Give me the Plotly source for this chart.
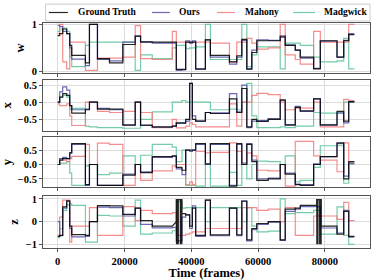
import plotly.graph_objects as go

# Segment start times (thousand frames), shared by all panels
SEG_K = [0, 0.6, 1.5, 2.7, 3.6, 4.2, 8.3, 9.5, 11.9, 15.5, 19.5, 23.2, 24.8, 28.3, 34.3,
         35.5, 37.2, 38.3, 39.5, 40.3, 41.3, 44.2, 45.7, 51.4, 53.6, 55.1, 56.6, 58.1,
         59.6, 63.0, 66.6, 68.1, 71.1, 72.6, 76.6, 78.6, 83.6, 85.6, 87.1]
END_K = 88.8

SERIES = ["Ground Truth", "Ours", "Mahony", "Madgwick"]
COLORS = ["#000000", "#5050a8", "#f47a78", "#5cc49a"]

W_GT = [0.76, 0.8, 0.9, 0.8, 0.55, 0.34, 0.18, 1.0, 0.27, 0.18, 0.57, 0.75, 0.62, 0.62, 0.62,
        0.04, 0.04, 0.62, 0.62, 0.62, 0.05, 0.67, 0.34, 0.2, 0.33, 0.68, 0.05, 0.4, 0.65, 0.65,
        0.75, 0.55, 0.45, 0.3, 0.05, 0.65, 0.3, 0.65, 0.78]
W_OURS = [0.98, 0.95, 0.85, 0.8, 0.5, 0.26, 0.12, 1.0, 0.25, 0.22, 0.62, 0.75, 0.63, 0.6, 0.6,
          0.02, 0.03, 0.65, 0.6, 0.65, 0.04, 0.67, 0.3, 0.15, 0.3, 0.66, 0.04, 0.45, 0.67, 0.66,
          0.72, 0.56, 0.45, 0.28, 0.06, 0.64, 0.3, 0.66, 0.8]
W_MAH = [0.8, 1.0, 0.2, 0.05, 0.62, 0.62, 0.02, 0.02, 0.28, 0.28, 0.3, 0.97, 0.27, 0.25, 0.85,
         0.62, 0.62, 0.62, 0.6, 0.62, 0.62, 0.62, 0.6, 0.2, 0.62, 0.62, 0.7, 0.6, 0.47, 0.5,
         1.0, 0.35, 0.25, 0.15, 0.85, 0.62, 0.62, 0.62, 1.0]
W_MAD = [0.85, 0.9, 0.92, 0.85, 0.3, 0.1, 0.55, 0.62, 0.62, 0.62, 0.62, 0.02, 0.35, 0.27, 0.5,
         0.55, 0.55, 0.48, 0.5, 0.5, 0.52, 1.0, 0.25, 0.25, 0.25, 1.0, 0.1, 0.35, 0.52, 0.52,
         0.05, 0.6, 0.6, 0.55, 0.3, 0.2, 0.22, 0.7, 0.05]

X_GT = [0.0, 0.15, 0.25, 0.2, -0.1, -0.32, -0.22, 0.0, -0.2, -0.2, -0.66, 0.0, -0.67, -0.72, -0.7,
        -0.6, -0.6, -0.5, 0.55, -0.5, -0.55, -0.3, -0.33, 0.1, -0.3, 0.4, -0.72, -0.5, -0.56, -0.5,
        0.07, -0.66, -0.15, -0.25, 0.1, -0.66, -0.27, -0.55, 0.02]
X_OURS = [0.0, 0.3, 0.45, 0.35, -0.1, -0.22, -0.2, 0.0, -0.18, -0.22, -0.68, 0.0, -0.68, -0.73, -0.7,
          -0.62, -0.62, -0.55, 0.55, -0.4, -0.55, -0.3, -0.31, 0.25, -0.28, 0.5, -0.74, -0.55, -0.54,
          -0.48, 0.05, -0.67, -0.12, -0.27, 0.1, -0.67, -0.32, -0.6, 0.0]
X_MAH = [-0.05, -0.1, -0.1, -0.05, -0.4, -0.68, 0.0, 0.0, -0.27, -0.3, -0.27, 0.0, -0.3, -0.74, -0.5,
         -0.75, -0.75, -0.7, -0.6, -0.65, -0.72, -0.72, -0.72, -0.05, -0.7, 0.0, 0.0, 0.2, 0.26, 0.22,
         0.0, -0.22, -0.17, -0.17, 0.0, -0.72, -0.72, 0.08, 0.05]
X_MAD = [0.0, 0.15, 0.2, 0.15, -0.2, -0.18, -0.7, -0.72, -0.74, -0.74, -0.76, -0.76, -0.5, -0.28, 0.0,
         0.0, 0.05, 0.0, 0.0, 0.0, 0.0, 0.0, -0.22, -0.2, -0.22, 0.0, 0.55, -0.4, -0.74, -0.74,
         -0.72, -0.74, -0.7, -0.7, -0.3, -0.32, -0.3, 0.0, 0.0]

Y_GT = [0.0, 0.15, 0.2, 0.2, 0.4, 0.72, -0.7, 0.0, -0.72, -0.72, -0.37, 0.0, -0.28, 0.27, 0.3,
        -0.1, -0.2, 0.5, 0.5, 0.5, 0.72, 0.02, 0.72, -0.75, 0.72, 0.0, 0.7, 0.1, -0.55, -0.5,
        0.0, -0.33, -0.7, -0.72, 0.0, 0.27, 0.75, -0.5, 0.1]
Y_OURS = [0.0, 0.2, 0.25, 0.2, 0.4, 0.7, -0.72, 0.0, -0.72, -0.72, -0.33, 0.0, -0.25, 0.25, 0.28,
          -0.15, -0.35, 0.5, 0.45, 0.5, 0.7, 0.0, 0.7, -0.72, 0.7, 0.05, 0.72, 0.15, -0.5, -0.47,
          0.0, -0.3, -0.68, -0.7, 0.02, 0.27, 0.72, -0.4, 0.05]
Y_MAH = [0.0, 0.2, 0.15, 0.1, 0.2, 0.28, 0.7, 0.0, 0.74, 0.7, -0.72, 0.0, -0.55, -0.22, -0.05,
         0.0, 0.0, -0.7, -0.6, -0.7, 0.45, 0.4, 0.42, 0.75, 0.45, 0.0, 0.4, 0.3, -0.2, -0.22,
         0.0, -0.75, 0.8, 0.8, 0.3, 0.15, -0.25, 0.75, 0.05]
Y_MAD = [0.0, 0.05, 0.05, 0.1, -0.3, -0.72, -0.05, 0.0, -0.35, -0.3, 0.3, 0.0, 0.32, 0.7, 0.6,
         0.1, 0.5, -0.72, -0.72, -0.72, -0.75, 0.0, -0.75, -0.27, -0.72, 0.0, -0.5, 0.0, 0.12, 0.1,
         0.0, 0.3, -0.6, -0.55, -0.1, 0.65, 0.65, -0.65, 0.0]

Z_GT = [-0.65, -0.6, 0.65, 0.92, -0.2, -0.57, -0.6, 0.0, 0.71, 0.7, 0.32, 0.6, 0.05, -0.2, -0.2,
        0.0, 0.35, 0.3, -0.2, 0.6, -0.6, 0.95, -0.58, 0.6, -0.58, 0.9, -0.8, -0.3, -0.08, 0.0,
        -0.8, 0.55, 0.6, 0.72, 0.72, -0.2, -0.55, 0.45, -0.65]
Z_OURS = [0.0, -0.62, 0.6, 0.9, -0.3, -0.67, -0.65, 0.0, 0.64, 0.62, 0.25, 0.6, -0.12, -0.27, -0.25,
          -0.85, 0.2, 0.3, -0.3, 0.7, -0.65, 0.95, -0.62, 0.6, -0.62, 0.92, -0.85, -0.35, -0.12,
          -0.02, -0.82, 0.45, 0.55, 0.66, 0.66, -0.28, -0.5, 0.5, -0.68]
Z_MAH = [-0.6, 0.2, 0.95, 0.95, -0.9, -0.2, -0.2, 0.62, -0.6, -0.6, 0.66, 0.05, 0.5, 0.35, 0.4,
         -0.6, -0.6, -0.55, -0.5, -0.45, -0.45, -0.3, -0.3, -0.3, -0.3, 0.62, 0.62, 0.62, 0.5, 0.55,
         0.0, 0.62, -0.6, -0.6, 0.25, 0.25, 0.1, 0.85, 0.05]
Z_MAD = [-0.7, -0.3, 0.5, 0.75, 0.78, 0.72, -0.9, -0.9, 0.28, 0.25, -0.2, 0.95, -0.55, -0.5, -0.4,
         0.9, 0.6, 0.62, 0.62, 0.62, 0.62, 0.0, 0.62, 0.62, 0.62, 0.0, 0.62, -0.2, -0.45, -0.42,
         1.0, 0.35, 0.4, 0.4, 0.5, -0.55, 0.65, -0.6, -1.0]

# Rapid sign flips of the ground-truth z component (thousand frames / values)
Z_FLICK1_K = [35.5, 35.55, 35.6, 35.65, 35.7, 35.75, 35.8, 35.85, 35.9, 35.95, 36.0, 36.05, 36.1,
              36.7, 36.75, 36.8, 36.85, 36.9, 36.95, 37.0, 37.05, 37.1, 37.15, 37.2]
Z_FLICK1_V = [0.97, -0.97, 0.97, -0.97, 0.97, -0.97, 0.97, -0.97, 0.97, -0.97, 0.97, -0.97,
              0.97, -0.97, 0.97, -0.97, 0.97, -0.97, 0.97, -0.97, 0.97, -0.97, 0.97]
Z_FLICK2_K = [77.5, 77.55, 77.6, 77.65, 77.7, 77.75, 77.8, 77.85, 77.9,
              78.4, 78.45, 78.5, 78.55, 78.6, 78.65, 78.7, 78.75, 78.8, 78.85, 78.9]
Z_FLICK2_V = [0.97, -0.97, 0.97, -0.97, 0.97, -0.97, 0.97, -0.97, 0.97,
              -0.97, 0.97, -0.97, 0.97, -0.97, 0.97, -0.97, 0.97, -0.97, 0.97]

PANELS = [
    ("w", [W_GT, W_OURS, W_MAH, W_MAD], [-0.036, 1.028], [0, 1], ["0", "1"]),
    ("x", [X_GT, X_OURS, X_MAH, X_MAD], [-0.84, 0.65], [-0.5, 0, 0.5], ["\u22120.5", "0.0", "0.5"]),
    ("y", [Y_GT, Y_OURS, Y_MAH, Y_MAD], [-0.78, 0.95], [-0.5, 0, 0.5], ["\u22120.5", "0.0", "0.5"]),
    ("z", [Z_GT, Z_OURS, Z_MAH, Z_MAD], [-1.16, 1.13], [-1, 0, 1], ["\u22121", "0", "1"]),
]
DOMAINS = [[0.778, 1.0], [0.52, 0.747], [0.271, 0.493], [0.0, 0.231]]

# Legend entry positions (paper x of line start, line end, text start)
LEG_LINE_X0 = [0.018, 0.333, 0.532, 0.765]
LEG_LINE_X1 = [0.076, 0.388, 0.587, 0.832]
LEG_TEXT_X = [0.101, 0.410, 0.612, 0.853]


def value_at(vals, t):
    idx = 0
    for i, t0 in enumerate(SEG_K):
        if t0 <= t:
            idx = i
    return vals[idx]


def step_points(vals):
    xs, ys = [], []
    for i, v in enumerate(vals):
        t0 = SEG_K[i]
        t1 = SEG_K[i + 1] if i + 1 < len(SEG_K) else END_K
        xs += [t0, t1]
        ys += [v, v]
    return xs, ys


def insert_flicker(xs, ys, vals, fk, fv):
    fs, fe = fk[0], fk[-1]
    bx = [x for x in xs if x < fs] + [fs]
    by = [y for x, y in zip(xs, ys) if x < fs] + [value_at(vals, fs)]
    ax = [fe] + [x for x in xs if x > fe]
    ay = [value_at(vals, fe)] + [y for x, y in zip(xs, ys) if x > fe]
    mx, my = [], []
    for j, v in enumerate(fv):
        mx += [fk[j], fk[j + 1]]
        my += [v, v]
    return bx + mx + ax, by + my + ay


FONT = "Liberation Serif"
fig = go.Figure()

draw_order = [3, 2, 1, 0]
for p, (name, series, yr, tv, tt) in enumerate(PANELS):
    for s in draw_order:
        xs, ys = step_points(series[s])
        if name == "z" and s == 0:
            xs, ys = insert_flicker(xs, ys, series[s], Z_FLICK1_K, Z_FLICK1_V)
            xs, ys = insert_flicker(xs, ys, series[s], Z_FLICK2_K, Z_FLICK2_V)
        fig.add_trace(go.Scatter(
            x=[x * 1000 for x in xs], y=ys, mode="lines", name=SERIES[s],
            line=dict(color=COLORS[s], width=1.2, simplify=False), opacity=0.85,
            showlegend=False,
            xaxis="x" if p == 0 else f"x{p + 1}", yaxis="y" if p == 0 else f"y{p + 1}",
        ))

layout = dict(
    width=373, height=280,
    margin=dict(l=43, r=3, t=23, b=32, autoexpand=False),
    paper_bgcolor="white", plot_bgcolor="white",
    font=dict(family=FONT, size=10, color="black"),
    showlegend=False,
)

axis_common = dict(showline=True, linecolor="#555555", linewidth=1, mirror=True,
                   showgrid=True, gridcolor="#dcdcdc", gridwidth=1, zeroline=False,
                   ticks="outside", ticklen=3, tickcolor="#555555", automargin=False)
for p, (name, series, yr, tv, tt) in enumerate(PANELS):
    xk = "xaxis" if p == 0 else f"xaxis{p + 1}"
    yk = "yaxis" if p == 0 else f"yaxis{p + 1}"
    ya = "y" if p == 0 else f"y{p + 1}"
    xa = "x" if p == 0 else f"x{p + 1}"
    last = p == len(PANELS) - 1
    layout[xk] = dict(axis_common, domain=[0, 1], anchor=ya, range=[-4400, 93470],
                      tickvals=[0, 20000, 40000, 60000, 80000],
                      ticktext=["0", "20000", "40000", "60000", "80000"],
                      showticklabels=last,
                      tickfont=dict(family=FONT, size=10.5, weight="bold"),
                      title=dict(text="Time (frames)" if last else "",
                                 font=dict(family=FONT, size=12.5, weight="bold"), standoff=1))
    layout[yk] = dict(axis_common, domain=DOMAINS[p], anchor=xa, range=yr,
                      tickvals=tv, ticktext=tt,
                      tickfont=dict(family=FONT, size=10.5, weight="bold"),
                      title=dict(text=name, font=dict(family=FONT, size=12.5, weight="bold"),
                                 standoff=4))

# Legend drawn in a box above the top panel
shapes = [dict(type="rect", xref="paper", yref="paper", x0=0.008, x1=1.0, y0=1.009, y1=1.084,
               line=dict(color="#cccccc", width=1), fillcolor="white", layer="above")]
annotations = []
for s in range(4):
    shapes.append(dict(type="line", xref="paper", yref="paper",
                       x0=LEG_LINE_X0[s], x1=LEG_LINE_X1[s], y0=1.0467, y1=1.0467,
                       line=dict(color=COLORS[s], width=1.2), opacity=0.85, layer="above"))
    annotations.append(dict(text=SERIES[s], xref="paper", yref="paper", x=LEG_TEXT_X[s],
                            y=1.0467, xanchor="left", yanchor="middle", showarrow=False,
                            font=dict(family=FONT, size=9.5, weight="bold", color="black")))
layout["shapes"] = shapes
layout["annotations"] = annotations

fig.update_layout(**layout)
fig.write_html("out.html", config={"displayModeBar": False},
               post_script="document.body.style.margin='0';")
